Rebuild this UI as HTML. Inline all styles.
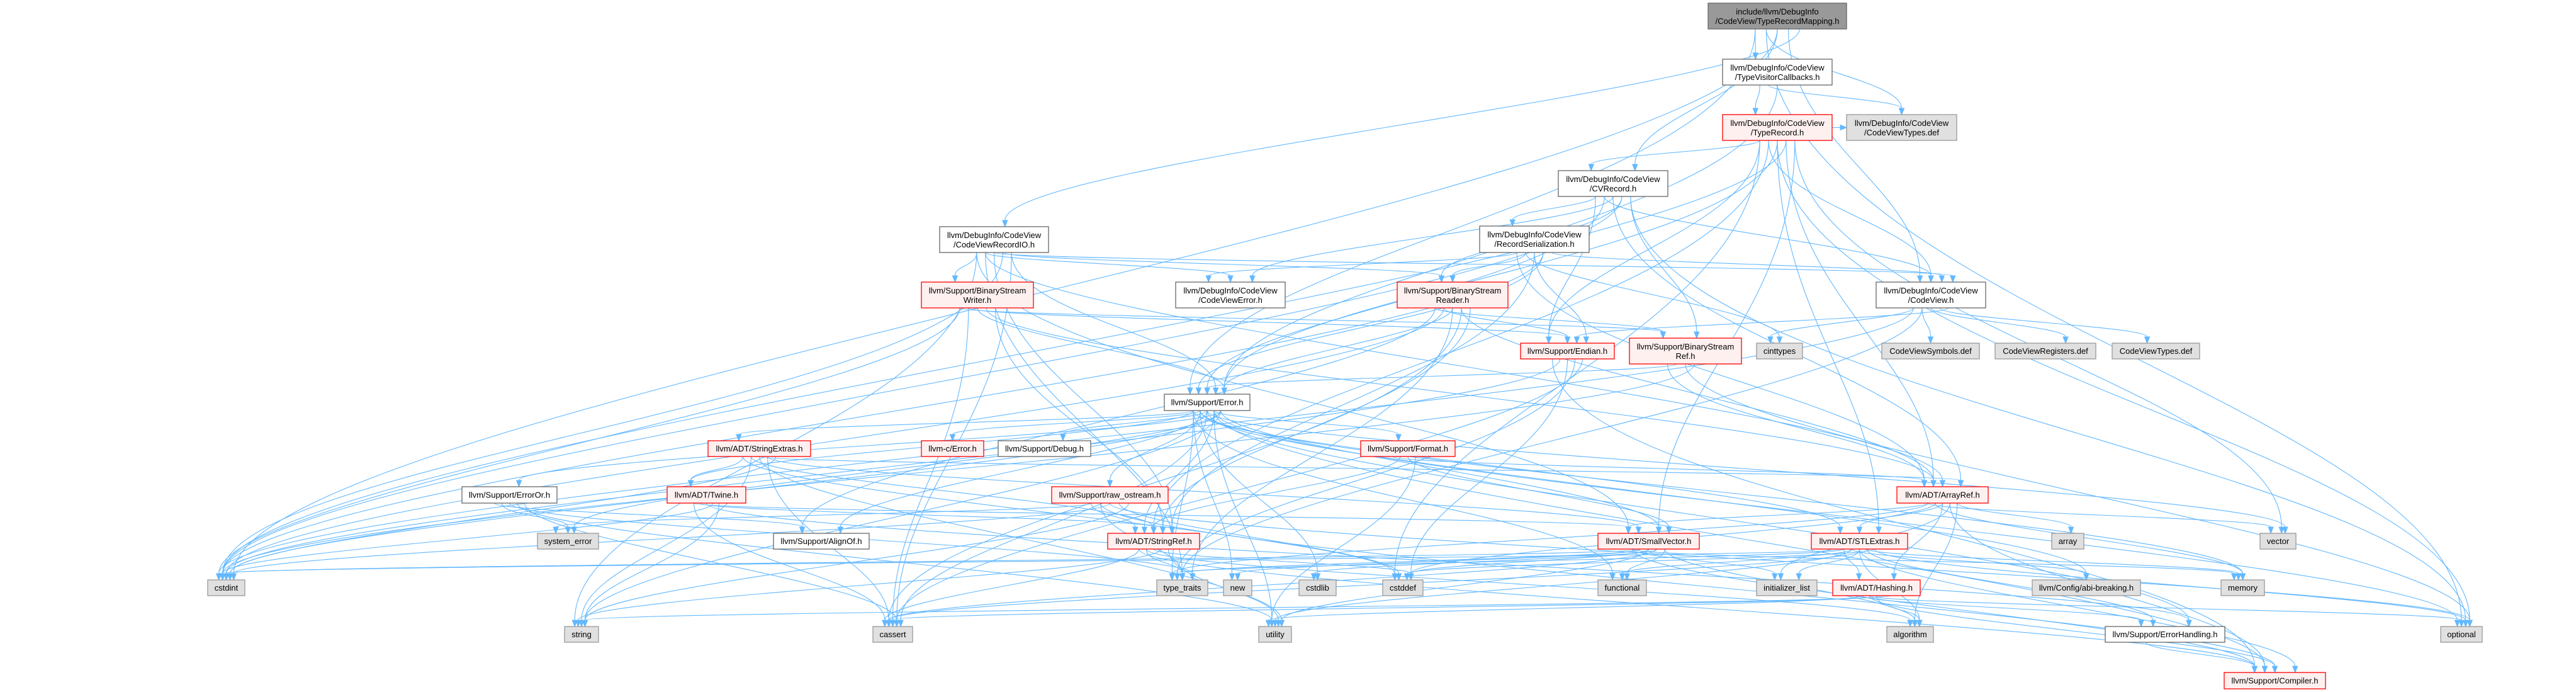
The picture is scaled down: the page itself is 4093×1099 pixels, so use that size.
<!DOCTYPE html>
<html><head><meta charset="utf-8"><style>
html,body{margin:0;padding:0;background:#fff;}
svg{display:block;}
text{font-family:"Liberation Sans",Arial,sans-serif;font-size:13px;fill:#000;}
</style></head><body>
<svg id="g" width="4093" height="1099" xmlns="http://www.w3.org/2000/svg"></svg>
<script>
var N={
root:[2714,5,220,41,'g',"include/llvm/DebugInfo","/CodeView/TypeRecordMapping.h"],
tvc:[2737,94,174,41,'w',"llvm/DebugInfo/CodeView","/TypeVisitorCallbacks.h"],
tr:[2737,182,174,41,'r',"llvm/DebugInfo/CodeView","/TypeRecord.h"],
cvtdef1:[2934,182,175,41,'x',"llvm/DebugInfo/CodeView","/CodeViewTypes.def"],
cvr:[2476,271,174,41,'w',"llvm/DebugInfo/CodeView","/CVRecord.h"],
rs:[2351,359,174,42,'w',"llvm/DebugInfo/CodeView","/RecordSerialization.h"],
rio:[1493,360,173,41,'w',"llvm/DebugInfo/CodeView","/CodeViewRecordIO.h"],
bsw:[1464,448,178,41,'r',"llvm/Support/BinaryStream","Writer.h"],
cve:[1868,448,174,41,'w',"llvm/DebugInfo/CodeView","/CodeViewError.h"],
bsr:[2220,448,176,41,'r',"llvm/Support/BinaryStream","Reader.h"],
cv:[2981,448,174,41,'w',"llvm/DebugInfo/CodeView","/CodeView.h"],
endian:[2416,545,149,25,'r',"llvm/Support/Endian.h"],
bsref:[2589,537,178,41,'r',"llvm/Support/BinaryStream","Ref.h"],
cinttypes:[2791,545,73,25,'x',"cinttypes"],
cvsym:[2990,545,155,25,'x',"CodeViewSymbols.def"],
cvreg:[3170,545,160,25,'x',"CodeViewRegisters.def"],
cvtdef2:[3356,545,139,25,'x',"CodeViewTypes.def"],
error:[1850,626,136,26,'w',"llvm/Support/Error.h"],
strext:[1125,700,163,25,'r',"llvm/ADT/StringExtras.h"],
cerror:[1464,700,99,25,'r',"llvm-c/Error.h"],
debug:[1586,700,147,25,'w',"llvm/Support/Debug.h"],
format:[2162,700,150,25,'r',"llvm/Support/Format.h"],
erroror:[734,773,151,26,'w',"llvm/Support/ErrorOr.h"],
twine:[1060,773,125,26,'r',"llvm/ADT/Twine.h"],
rawos:[1671,773,185,26,'r',"llvm/Support/raw_ostream.h"],
arrayref:[3014,773,145,26,'r',"llvm/ADT/ArrayRef.h"],
syserr:[854,847,97,25,'x',"system_error"],
alignof:[1229,847,152,25,'w',"llvm/Support/AlignOf.h"],
stringref:[1760,847,146,25,'r',"llvm/ADT/StringRef.h"],
smallvec:[2539,847,161,25,'r',"llvm/ADT/SmallVector.h"],
stlext:[2878,847,153,25,'r',"llvm/ADT/STLExtras.h"],
array:[3260,847,51,25,'x',"array"],
vector:[3591,847,57,25,'x',"vector"],
cstdint:[330,921,59,25,'x',"cstdint"],
typetraits:[1838,921,81,25,'x',"type_traits"],
"new":[1944,921,45,25,'x',"new"],
cstdlib:[2064,921,59,25,'x',"cstdlib"],
cstddef:[2197,921,64,25,'x',"cstddef"],
functional:[2539,921,77,25,'x',"functional"],
initlist:[2791,921,96,25,'x',"initializer_list"],
hashing:[2912,921,139,25,'r',"llvm/ADT/Hashing.h"],
abi:[3229,921,172,25,'x',"llvm/Config/abi-breaking.h"],
memory:[3529,921,69,25,'x',"memory"],
string:[897,995,54,25,'x',"string"],
cassert:[1387,995,63,25,'x',"cassert"],
utility:[2000,995,52,25,'x',"utility"],
algorithm:[2998,995,74,25,'x',"algorithm"],
errhandling:[3345,995,190,25,'w',"llvm/Support/ErrorHandling.h"],
optional:[3878,995,66,25,'x',"optional"],
compiler:[3534,1068,161,26,'r',"llvm/Support/Compiler.h"]
};
var E={
root:"tvc cvtdef1 cvr cv rio error optional cstdint",
tvc:"tr cvtdef1 error",
tr:"cvr cv error arrayref smallvec endian stringref optional cstdint vector cstddef cvtdef1 stlext",
cvr:"rs cv cve bsr bsref endian error arrayref cstdint optional",
rs:"cve bsr endian error cv arrayref cinttypes stringref cstdint",
rio:"bsw cve cv bsr error smallvec arrayref stringref cstdint cassert string typetraits",
bsw:"bsref endian error arrayref stringref cstdint cassert",
bsr:"bsref endian error arrayref stringref alignof cstdint typetraits cassert",
cv:"cinttypes cvsym cvreg cvtdef2 endian cstdint typetraits",
endian:"compiler cstdint cstddef typetraits cassert",
bsref:"arrayref error optional cstdint",
error:"strext cerror debug format erroror twine rawos alignof stringref smallvec stlext abi errhandling compiler cstdint typetraits cstdlib cassert utility string new memory vector optional syserr functional",
strext:"twine stringref arrayref smallvec cstdint cstddef string utility cassert",
twine:"smallvec stringref errhandling cstdint string cassert",
erroror:"alignof syserr typetraits utility cassert",
rawos:"stringref compiler cstdint cstddef string syserr typetraits optional",
format:"arrayref stringref smallvec utility",
stringref:"compiler typetraits cstddef string utility cassert algorithm",
arrayref:"smallvec stlext hashing compiler array vector memory cstddef initlist algorithm typetraits",
smallvec:"compiler typetraits cstddef cstdlib functional initlist new utility cassert algorithm memory cstdint",
stlext:"hashing abi compiler errhandling cstddef cstdint functional initlist memory optional typetraits utility algorithm cassert",
hashing:"errhandling compiler algorithm cassert string utility optional",
errhandling:"compiler"
};
var S="http://www.w3.org/2000/svg",g=document.getElementById('g'),C="#63b8ff";
function el(t,a,p){var e=document.createElementNS(S,t);for(var k in a)e.setAttribute(k,a[k]);(p||g).appendChild(e);return e;}
var eg=el('g',{}),ng=el('g',{});
for(var s in E){E[s].split(' ').forEach(function(t,i){
 var A=N[s],B=N[t];if(!B)return;
 var sx=A[0]+A[2]/2+((i%5)-2)*A[2]*0.08, sy=A[1]+A[3];
 var tx,ty,ex,ey,c1x,c1y,c2x,c2y,ang;
 if(B[1]>=sy+8){
  tx=B[0]+B[2]/2+(((i*7)%5)-2)*B[2]*0.1; ty=B[1];
  var dy=ty-sy; ang=Math.PI/2;
  ex=tx; ey=ty-10;
  c1x=sx;c1y=sy+dy*0.45;c2x=tx;c2y=ey-dy*0.35;
  if(Math.abs(tx-sx)>dy*2.5){c1y=sy+dy*0.3;c2y=ey-dy*0.3;}
  var d=Math.atan2(ey-c2y,ex-c2x);ang=d;
 } else {
  var right=B[0]>A[0]+A[2]/2;
  sx=right?A[0]+A[2]:A[0]; sy=A[1]+A[3]/2;
  tx=right?B[0]:B[0]+B[2]; ty=B[1]+B[3]/2;
  ex=tx+(right?-10:10); ey=ty;
  c1x=sx+(ex-sx)*0.4;c1y=sy;c2x=sx+(ex-sx)*0.6;c2y=ey;ang=right?0:Math.PI;
 }
 el('path',{d:'M'+sx+','+sy+' C'+c1x+','+c1y+' '+c2x+','+c2y+' '+ex+','+ey,fill:'none',stroke:C,'stroke-width':1.1},eg);
 var hx=ex+10*Math.cos(ang),hy=ey+10*Math.sin(ang),px=-Math.sin(ang)*4,py=Math.cos(ang)*4;
 el('polygon',{points:hx+','+hy+' '+(ex+px)+','+(ey+py)+' '+(ex-px)+','+(ey-py),fill:C,stroke:C},eg);
});}
for(var k in N){var n=N[k],f,st;
 if(n[4]=='g'){f='#999999';st='#666666';}else if(n[4]=='r'){f='#fff0f0';st='#ff0000';}else if(n[4]=='x'){f='#e0e0e0';st='#999999';}else{f='#ffffff';st='#666666';}
 el('rect',{x:n[0],y:n[1],width:n[2],height:n[3],fill:f,stroke:st,'stroke-width':1.3},ng);
 var cx=n[0]+n[2]/2;
 if(n.length>6){
  el('text',{x:cx,y:n[1]+18,'text-anchor':'middle'},ng).textContent=n[5];
  el('text',{x:cx,y:n[1]+33,'text-anchor':'middle'},ng).textContent=n[6];
 } else el('text',{x:cx,y:n[1]+n[3]/2+4.5,'text-anchor':'middle'},ng).textContent=n[5];
}
</script>
</body></html>
